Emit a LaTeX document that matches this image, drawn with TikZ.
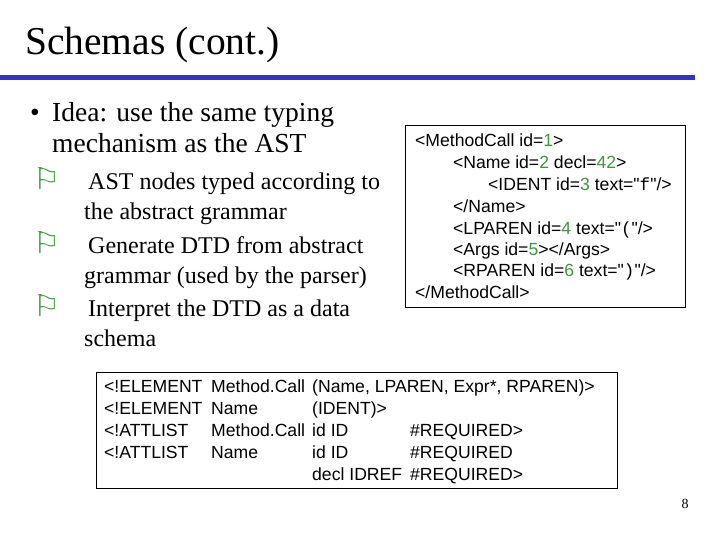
\documentclass[tikz,border=0pt]{standalone}
\usepackage{fontspec}
\setmainfont{Liberation Serif}
\newfontfamily\sansf{Liberation Sans}
\newfontfamily\monof{Liberation Mono}
\newfontfamily\djv{DejaVu Sans}
\begin{document}
\begin{tikzpicture}[x=1pt,y=-1pt,
  body/.style={anchor=base west,inner sep=0pt,font=\fontsize{27.5}{31}\selectfont},
  sub/.style={anchor=base west,inner sep=0pt,font=\fontsize{24}{28}\selectfont},
  code/.style={anchor=base west,inner sep=0pt,font=\sansf\fontsize{17.6}{21}\selectfont}]
\definecolor{bl}{RGB}{51,51,204}
\definecolor{gn}{RGB}{60,150,60}
\newcommand\fl{{\color{gn}\djv\fontsize{30}{30}\selectfont ⚐}}
\newcommand\g[1]{\textcolor{gn}{#1}}
\useasboundingbox (0,0) rectangle (720,540);
\node[anchor=west,inner sep=0pt,font=\fontsize{39.5}{40}\selectfont] (title) at (25,45) {Schemas (cont.)};
\draw[bl,line width=5] (0,78) -- (695,78);
\node[body] (b1) at (30,122) {•};
\node[body] (b1a) at (52,122) {Idea: use the same typing};
\node[body] (b1b) at (52,153) {mechanism as the AST};
\node[sub] (f1) at (33,190) {\fl};
\node[sub] (b2a) at (88,190) {AST nodes typed according to};
\node[sub] (b2b) at (84,220) {the abstract grammar};
\node[sub] (f2) at (33,253) {\fl};
\node[sub] (b3a) at (88,253) {Generate DTD from abstract};
\node[sub] (b3b) at (84,283) {grammar (used by the parser)};
\node[sub] (f3) at (33,316) {\fl};
\node[sub] (b4a) at (88,316) {Interpret the DTD as a data};
\node[sub] (b4b) at (84,346) {schema};
\draw (405,125) rectangle (685,307);
\node[code] (c1) at (415,147) {<MethodCall id=\g{1}>};
\node[code] (c2) at (453,169) {<Name id=\g{2} decl=\g{42}>};
\node[code] (c3) at (488,191) {<IDENT id=\g{3} text="{\monof f}"/>};
\node[code] (c4) at (453,213) {</Name>};
\node[code] (c5) at (453,234) {<LPAREN id=\g{4} text="{\monof (}"/>};
\node[code] (c6) at (453,255) {<Args id=\g{5}></Args>};
\node[code] (c7) at (453,276) {<RPAREN id=\g{6} text="{\monof )}"/>};
\node[code] (c8) at (415,298) {</MethodCall>};
\draw (96,372) rectangle (617,488);
\foreach \y/\a/\b/\c/\d [count=\i] in {392/<!ELEMENT/Method.Call/{(Name, LPAREN, Expr*, RPAREN)>}/{},
  414/<!ELEMENT/Name/(IDENT)>/{}, 436/<!ATTLIST/Method.Call/id ID/\#REQUIRED>,
  458/<!ATTLIST/Name/id ID/\#REQUIRED, 480/{}/{}/decl IDREF/\#REQUIRED>}{
  \node[code] (ta\i) at (104,\y) {\a};
  \node[code] (tb\i) at (211,\y) {\b};
  \node[code] (tc\i) at (312,\y) {\c};
  \node[code] (td\i) at (410,\y) {\d};
}
\node[inner sep=0pt,font=\fontsize{14}{14}\selectfont] (pg) at (685,504) {8};
\end{tikzpicture}
\end{document}
